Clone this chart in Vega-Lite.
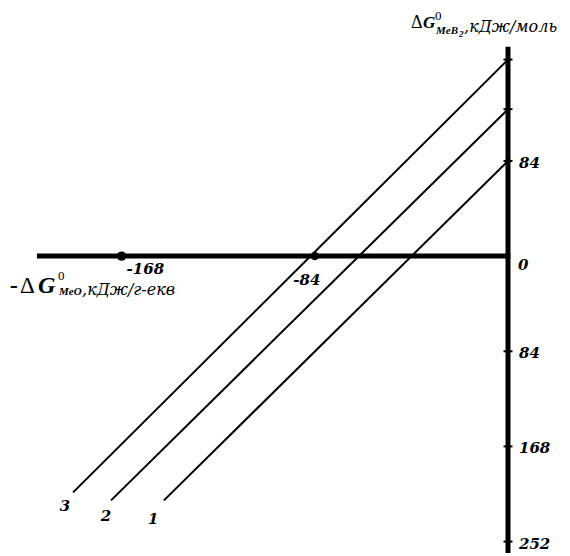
{
  "$schema": "https://vega.github.io/schema/vega-lite/v6.json",
  "width": 570,
  "height": 556,
  "padding": 0,
  "autosize": {"type": "fit", "contains": "padding"},
  "background": "white",
  "config": {"view": {"stroke": null}},
  "datasets": {
    "frame": [
      {"part": "x-axis", "x": -204.8, "x2": 1.0, "y": 0, "y2": 0},
      {"part": "y-axis", "x": 0, "x2": 0, "y": 184.9, "y2": -262}
    ],
    "yticks": [
      {"v": 173.5}, {"v": 129.7}, {"v": 84}, {"v": -84}, {"v": -168}, {"v": -252}
    ],
    "ylabels": [
      {"v": 84, "text": "84"},
      {"v": -84, "text": "84"},
      {"v": -168, "text": "168"},
      {"v": -252, "text": "252"}
    ],
    "dots": [
      {"x": -168, "y": 0, "text": "-168"},
      {"x": -84, "y": 0, "text": "-84"}
    ],
    "lines": [
      {"line": "1", "x": 0, "y": 84},
      {"line": "1", "x": -149.6, "y": -215.6},
      {"line": "2", "x": 0, "y": 129.7},
      {"line": "2", "x": -172.6, "y": -215.6},
      {"line": "3", "x": 0, "y": 173.5},
      {"line": "3", "x": -189.1, "y": -208.6}
    ],
    "notes": [
      {"role": "num", "text": "3", "x": -192.6, "y": -220.9},
      {"role": "num", "text": "2", "x": -174.8, "y": -229.6},
      {"role": "num", "text": "1", "x": -154.3, "y": -232.3},
      {"role": "delta", "text": "Δ", "x": -42.2, "y": 206.0},
      {"role": "G", "text": "G", "x": -37.0, "y": 206.0},
      {"role": "sup", "text": "0", "x": -31.7, "y": 212.1},
      {"role": "sub", "text": "MeB", "x": -31.3, "y": 199.0},
      {"role": "subsub", "text": "2", "x": -21.3, "y": 196.3},
      {"role": "unit", "text": ",кДж/моль", "x": -19.1, "y": 202.5},
      {"role": "G2", "text": "-", "x": -216.5, "y": -26.3},
      {"role": "delta2", "text": "Δ", "x": -212.2, "y": -26.3},
      {"role": "G2", "text": "G", "x": -204.3, "y": -26.3},
      {"role": "sup", "text": "0", "x": -195.7, "y": -17.5},
      {"role": "sub", "text": "MeO", "x": -195.2, "y": -31.6},
      {"role": "unit", "text": ",кДж/г-екв", "x": -185.2, "y": -29.8}
    ]
  },
  "layer": [
    {
      "data": {"name": "frame"},
      "mark": {"type": "rule", "color": "black", "strokeWidth": 5},
      "encoding": {
        "x": {"field": "x", "type": "quantitative", "scale": {"domain": [-220.87, 26.96], "nice": false, "zero": false}, "axis": null},
        "x2": {"field": "x2"},
        "y": {"field": "y", "type": "quantitative", "scale": {"domain": [-261.2, 226.1], "nice": false, "zero": false}, "axis": null},
        "y2": {"field": "y2"}
      }
    },
    {
      "data": {"name": "yticks"},
      "mark": {"type": "tick", "orient": "horizontal", "size": 9, "thickness": 2, "color": "black", "opacity": 1},
      "encoding": {
        "x": {"datum": 0, "type": "quantitative"},
        "y": {"field": "v", "type": "quantitative"}
      }
    },
    {
      "data": {"name": "lines"},
      "mark": {"type": "line", "color": "black", "strokeWidth": 2},
      "encoding": {
        "x": {"field": "x", "type": "quantitative"},
        "y": {"field": "y", "type": "quantitative"},
        "detail": {"field": "line"}
      }
    },
    {
      "data": {"name": "dots"},
      "transform": [{"filter": "datum.x == -168"}],
      "mark": {"type": "circle", "color": "black", "opacity": 1, "size": 90},
      "encoding": {
        "x": {"field": "x", "type": "quantitative"},
        "y": {"field": "y", "type": "quantitative"}
      }
    },
    {
      "data": {"name": "dots"},
      "transform": [{"filter": "datum.x == -84"}],
      "mark": {"type": "circle", "color": "black", "opacity": 1, "size": 65},
      "encoding": {
        "x": {"field": "x", "type": "quantitative"},
        "y": {"field": "y", "type": "quantitative"}
      }
    },
    {
      "data": {"name": "dots"},
      "transform": [{"filter": "datum.x == -168"}],
      "mark": {"type": "text", "align": "left", "baseline": "middle", "dx": 5, "dy": 13, "font": "DejaVu Serif", "fontSize": 15, "fontWeight": "bold", "fontStyle": "italic", "color": "black"},
      "encoding": {
        "x": {"field": "x", "type": "quantitative"},
        "y": {"field": "y", "type": "quantitative"},
        "text": {"field": "text"}
      }
    },
    {
      "data": {"name": "dots"},
      "transform": [{"filter": "datum.x == -84"}],
      "mark": {"type": "text", "align": "center", "baseline": "middle", "dx": -8, "dy": 24, "font": "DejaVu Serif", "fontSize": 15, "fontWeight": "bold", "fontStyle": "italic", "color": "black"},
      "encoding": {
        "x": {"field": "x", "type": "quantitative"},
        "y": {"field": "y", "type": "quantitative"},
        "text": {"field": "text"}
      }
    },
    {
      "data": {"name": "ylabels"},
      "mark": {"type": "text", "align": "left", "baseline": "middle", "dx": 11, "dy": 2, "font": "DejaVu Serif", "fontSize": 15, "fontWeight": "bold", "fontStyle": "italic", "color": "black"},
      "encoding": {
        "x": {"datum": 0, "type": "quantitative"},
        "y": {"field": "v", "type": "quantitative"},
        "text": {"field": "text"}
      }
    },
    {
      "data": {"values": [{"v": 0, "text": "0"}]},
      "mark": {"type": "text", "align": "left", "baseline": "middle", "dx": 10, "dy": 9, "font": "DejaVu Serif", "fontSize": 15, "fontWeight": "bold", "fontStyle": "italic", "color": "black"},
      "encoding": {
        "x": {"datum": 0, "type": "quantitative"},
        "y": {"field": "v", "type": "quantitative"},
        "text": {"field": "text"}
      }
    },
    {
      "data": {"name": "notes"},
      "transform": [{"filter": "datum.role == 'num'"}],
      "mark": {"type": "text", "align": "center", "baseline": "middle", "font": "DejaVu Serif", "fontSize": 15, "fontWeight": "bold", "fontStyle": "italic", "color": "black"},
      "encoding": {
        "x": {"field": "x", "type": "quantitative"},
        "y": {"field": "y", "type": "quantitative"},
        "text": {"field": "text"}
      }
    },
    {
      "data": {"name": "notes"},
      "transform": [{"filter": "datum.role == 'delta'"}],
      "mark": {"type": "text", "align": "left", "baseline": "middle", "font": "Liberation Serif", "fontSize": 18, "color": "black"},
      "encoding": {
        "x": {"field": "x", "type": "quantitative"},
        "y": {"field": "y", "type": "quantitative"},
        "text": {"field": "text"}
      }
    },
    {
      "data": {"name": "notes"},
      "transform": [{"filter": "datum.role == 'G'"}],
      "mark": {"type": "text", "align": "left", "baseline": "middle", "font": "Liberation Serif", "fontSize": 17, "fontWeight": "bold", "fontStyle": "italic", "color": "black"},
      "encoding": {
        "x": {"field": "x", "type": "quantitative"},
        "y": {"field": "y", "type": "quantitative"},
        "text": {"field": "text"}
      }
    },
    {
      "data": {"name": "notes"},
      "transform": [{"filter": "datum.role == 'delta2'"}],
      "mark": {"type": "text", "align": "left", "baseline": "middle", "font": "Liberation Serif", "fontSize": 23, "color": "black"},
      "encoding": {
        "x": {"field": "x", "type": "quantitative"},
        "y": {"field": "y", "type": "quantitative"},
        "text": {"field": "text"}
      }
    },
    {
      "data": {"name": "notes"},
      "transform": [{"filter": "datum.role == 'G2'"}],
      "mark": {"type": "text", "align": "left", "baseline": "middle", "font": "Liberation Serif", "fontSize": 24, "fontWeight": "bold", "fontStyle": "italic", "color": "black"},
      "encoding": {
        "x": {"field": "x", "type": "quantitative"},
        "y": {"field": "y", "type": "quantitative"},
        "text": {"field": "text"}
      }
    },
    {
      "data": {"name": "notes"},
      "transform": [{"filter": "datum.role == 'sup'"}],
      "mark": {"type": "text", "align": "left", "baseline": "middle", "font": "Liberation Serif", "fontSize": 13, "color": "black"},
      "encoding": {
        "x": {"field": "x", "type": "quantitative"},
        "y": {"field": "y", "type": "quantitative"},
        "text": {"field": "text"}
      }
    },
    {
      "data": {"name": "notes"},
      "transform": [{"filter": "datum.role == 'sub'"}],
      "mark": {"type": "text", "align": "left", "baseline": "middle", "font": "Liberation Serif", "fontSize": 11, "fontWeight": "bold", "fontStyle": "italic", "color": "black"},
      "encoding": {
        "x": {"field": "x", "type": "quantitative"},
        "y": {"field": "y", "type": "quantitative"},
        "text": {"field": "text"}
      }
    },
    {
      "data": {"name": "notes"},
      "transform": [{"filter": "datum.role == 'subsub'"}],
      "mark": {"type": "text", "align": "left", "baseline": "middle", "font": "Liberation Serif", "fontSize": 9, "fontWeight": "bold", "fontStyle": "italic", "color": "black"},
      "encoding": {
        "x": {"field": "x", "type": "quantitative"},
        "y": {"field": "y", "type": "quantitative"},
        "text": {"field": "text"}
      }
    },
    {
      "data": {"name": "notes"},
      "transform": [{"filter": "datum.role == 'unit'"}],
      "mark": {"type": "text", "align": "left", "baseline": "middle", "font": "DejaVu Serif", "fontSize": 16, "fontStyle": "italic", "color": "black"},
      "encoding": {
        "x": {"field": "x", "type": "quantitative"},
        "y": {"field": "y", "type": "quantitative"},
        "text": {"field": "text"}
      }
    }
  ]
}
